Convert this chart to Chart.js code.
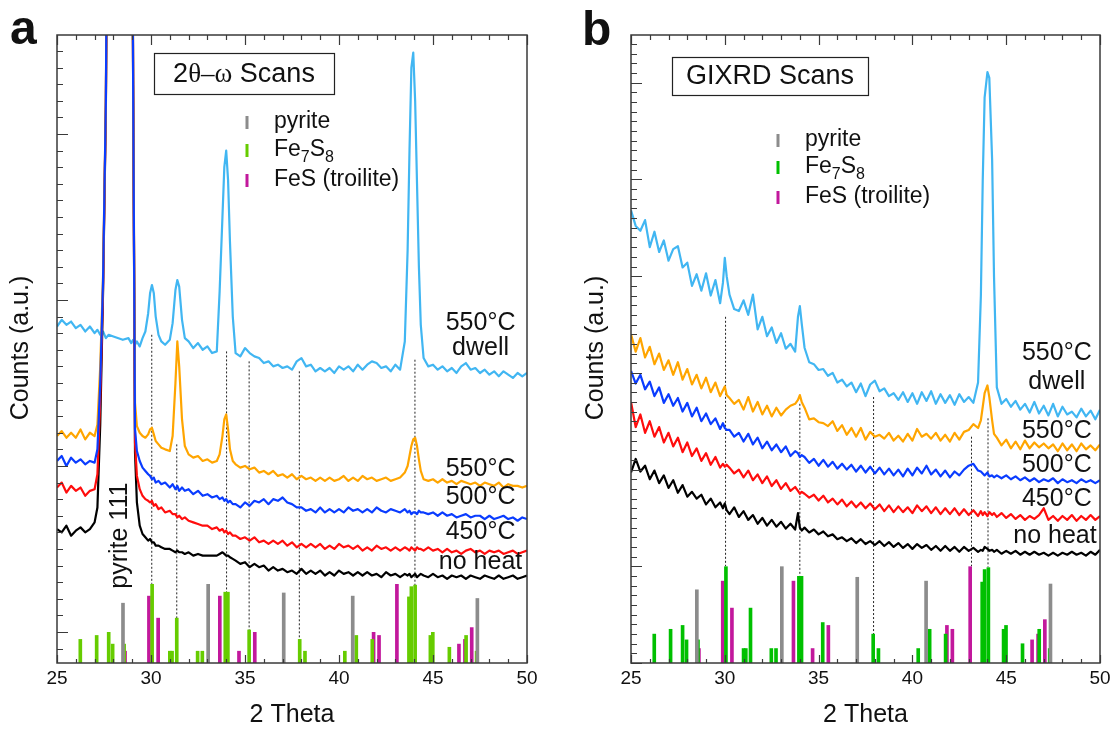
<!DOCTYPE html>
<html>
<head>
<meta charset="utf-8">
<title>XRD scans</title>
<script src="https://cdn.jsdelivr.net/npm/chart.js@4.4.1/dist/chart.umd.min.js"></script>
<style>
  html, body { margin: 0; padding: 0; background: #fff; }
  #wrap { position: relative; width: 1115px; height: 729px; overflow: hidden; }
  #wrap canvas { position: absolute; top: 0; }
  #scanChart { left: 0; }
  #gixrdChart { left: 560px; }
</style>
</head>
<body>
<div id="wrap">
  <canvas id="scanChart" width="560" height="729"></canvas>
  <canvas id="gixrdChart" width="555" height="729"></canvas>
</div>
<script>
// ---------- panel a: 2theta-omega scans ----------
const thetaA = [
  25, 25.25, 25.5, 25.75, 26, 26.25, 26.5, 26.75, 27,
  27.15, 27.3, 27.45, 27.6, 27.75,
  28, 28.5, 28.8, 28.95, 29.05,
  29.15, 29.25, 29.4, 29.55, 29.7, 29.85,
  29.95, 30.05, 30.15, 30.25, 30.4, 30.55, 30.75,
  31, 31.15, 31.3, 31.4, 31.5, 31.65, 31.8,
  32, 32.25, 32.5, 32.75, 33, 33.25, 33.5,
  33.65, 33.8, 33.9, 34, 34.1, 34.2, 34.35,
  34.5, 34.75, 35, 35.25, 35.5, 35.75, 36, 36.25, 36.5, 36.75,
  37, 37.25, 37.5, 37.75, 38, 38.25, 38.5, 38.75, 39, 39.25,
  39.5, 39.75, 40, 40.25, 40.5, 40.75, 41, 41.25, 41.5, 41.75,
  42, 42.25, 42.5, 42.75, 43, 43.25, 43.5,
  43.65, 43.75, 43.85, 43.95, 44.05, 44.15, 44.25, 44.35,
  44.5, 44.75, 45, 45.25, 45.5, 45.75, 46, 46.25, 46.5, 46.75,
  47, 47.25, 47.5, 47.75, 48, 48.25, 48.5, 48.75, 49, 49.25,
  49.5, 49.75, 50
];
const dwellA = [
  184, 188, 185, 187, 183, 185, 181, 184, 180,
  182, 179, 181, 177, 179,
  178, 176, 177, 174, 176,
  173, 175, 172, 177, 181, 192,
  204, 209, 204, 190, 179, 175, 173,
  176, 186, 206, 212, 208, 188, 177,
  175, 171, 174, 170, 172, 168, 169,
  205, 250, 280, 290, 272, 235, 190,
  168, 166, 171, 168, 166, 165, 162, 163, 160, 161,
  159, 160, 158, 163, 165, 160, 161, 157, 159, 157,
  159, 156, 160, 158, 160, 157, 161, 158, 161, 163,
  162, 159, 160, 157, 161, 158, 175,
  230, 290, 340, 349, 320, 270, 220, 185,
  165, 160, 161, 158, 160, 157, 159, 156, 160, 162,
  158, 159, 156, 158, 155, 157, 154, 157, 155, 153,
  156, 154, 156
];
const t550A = [
  118, 121, 117, 120, 117, 122, 116, 120, 118,
  125, 160, 215, 320, 600,
  600, 600, 600, 600, 330,
  138, 124, 120, 118, 117, 119,
  122, 123, 119, 115, 113, 111, 110,
  109, 118, 150, 175, 160, 128, 112,
  107, 105, 106, 103, 104, 102, 103,
  107, 118, 128, 131, 122, 110, 103,
  101, 99, 100, 98, 99, 96, 97, 95, 97, 94,
  95, 93, 95, 92, 94, 92, 93, 91, 93, 91,
  93, 91, 92, 94, 91, 93, 91, 94, 92, 93,
  91, 92, 93, 91, 92, 93, 96,
  100, 106, 112, 116, 117, 112, 104, 97,
  92, 91, 92, 90, 92, 90, 91, 89, 91, 90,
  89, 90, 88, 90, 89, 88, 90, 87, 89, 88,
  88, 87, 88
];
const t500A = [
  103, 106, 100, 105, 102, 104, 101, 103, 102,
  110, 150, 212, 320, 600,
  600, 600, 600, 600, 330,
  122, 109, 103, 99, 97, 95,
  94, 92, 93, 90, 91, 89, 90,
  87, 89, 86, 88, 85, 87, 85,
  86, 83, 85, 82, 83, 81, 82,
  80, 81, 79, 80, 78, 79, 77,
  77, 75, 78, 76, 79, 78, 80, 77, 80, 79,
  81, 78, 77, 75, 75, 73, 74, 72, 75, 72,
  74, 72, 74, 72, 75, 73, 74, 72, 74, 72,
  75, 73, 72, 74, 73, 72, 74,
  72, 73, 71, 72, 72, 71, 73, 72,
  72, 71, 72, 70, 72, 70, 71, 69, 70, 71,
  69, 70, 70, 68, 70, 68, 69, 70, 68, 69,
  67, 69, 68
];
const t450A = [
  87, 90, 84, 88, 85, 87, 82, 85, 86,
  95, 140, 208, 318, 600,
  600, 600, 600, 600, 330,
  114, 94, 86, 82, 80, 79,
  78, 79, 76, 77, 74, 75, 72,
  73, 71, 71, 69, 70, 68, 69,
  67, 66, 65, 64, 64, 62, 63,
  61, 62, 60, 61, 59, 60, 58,
  58, 56, 57, 55, 57, 54, 55, 53, 55, 53,
  55, 52, 54, 51, 53, 51, 53, 51, 53, 50,
  52, 50, 53, 51, 52, 50, 52, 49, 51, 49,
  52, 50, 51, 49, 51, 49, 51,
  50, 49, 51, 50, 49, 51, 50, 50,
  49, 51, 49, 50, 48, 50, 48, 49, 47, 49,
  50, 48, 49, 47, 49, 48, 49, 47, 48, 49,
  47, 48, 49
];
const noHeatA = [
  62, 60, 64, 58, 61, 63, 60, 62, 66,
  75, 125, 205, 315, 600,
  600, 600, 600, 600, 330,
  108, 78, 64, 59, 57, 55,
  56, 54, 54, 52, 52, 51, 50,
  50, 49, 48, 49, 48, 48, 47,
  48, 46, 47, 46, 46, 46, 46,
  47, 48, 47, 46, 46, 45, 44,
  43, 41, 42, 39, 41, 39, 40, 37, 39, 37,
  38, 36, 37, 35, 38, 35, 37, 35, 37, 34,
  36, 34, 37, 35, 36, 34, 36, 34, 36, 34,
  35, 33, 36, 34, 35, 33, 35,
  34, 35, 33, 34, 35, 33, 34, 35,
  34, 33, 35, 33, 34, 32, 34, 33, 34, 32,
  34, 33, 32, 34, 33, 32, 34, 32, 33, 34,
  32, 33, 34
];
// dotted peak markers: position, upper end, lower end
const markPosA = [30.04, 31.37, 34.02, 35.22, 37.89, 44.04];
const markTopA = [179, 113, 169, 163, 157, 164];
const markFootA = [29, 8, 24, 1, -5, 28];

// ---------- panel b: GIXRD scans ----------
const thetaB = [
  25, 25.25, 25.5, 25.75, 26, 26.25, 26.5, 26.75, 27, 27.25,
  27.5, 27.75, 28, 28.25, 28.5, 28.75, 29, 29.25, 29.5, 29.75,
  29.9, 30, 30.1,
  30.25, 30.5, 30.75, 31, 31.25, 31.5, 31.75, 32, 32.25, 32.5,
  32.75, 33, 33.25, 33.5, 33.75,
  33.9, 34, 34.1,
  34.25, 34.5, 34.75, 35, 35.25, 35.5, 35.75, 36, 36.25, 36.5,
  36.75, 37, 37.25, 37.5, 37.75, 38, 38.25, 38.5, 38.75, 39,
  39.25, 39.5, 39.75, 40, 40.25, 40.5, 40.75, 41, 41.25, 41.5,
  41.75, 42, 42.25, 42.5, 42.75, 43, 43.25, 43.5,
  43.65, 43.75, 43.85, 44, 44.1, 44.25, 44.35,
  44.5, 44.75, 45, 45.25, 45.5, 45.75, 46, 46.25, 46.5, 46.75,
  47, 47.25, 47.5, 47.75, 48, 48.25, 48.5, 48.75, 49, 49.25,
  49.5, 49.75, 50
];
const dwellB = [
  468, 452, 447, 458, 430, 446, 425, 437, 416, 428,
  431, 409, 414, 390, 402, 385, 403, 380, 396, 372,
  393, 419, 400,
  381, 366, 364, 375, 360, 381, 345, 358, 338, 347,
  331, 341, 325, 330, 322,
  358, 369, 351,
  326, 311, 309, 303, 304, 297, 300, 290, 293, 286,
  290, 280, 289, 276, 288, 292, 281, 284, 276, 279,
  272, 280, 270, 279, 268, 280, 271, 281, 268, 278,
  269, 277, 267, 278, 270, 275, 269, 290,
  380, 500, 585, 611, 605, 520, 400,
  285, 268, 273, 265, 271, 262, 268, 259, 270, 258,
  266, 256, 268, 255, 265, 257, 260, 254, 263, 255,
  261, 252, 262
];
const t550B = [
  340, 322, 336, 316, 327, 309, 320, 303, 313, 298,
  311, 293, 304, 288, 298, 284, 295, 280, 290, 276,
  282, 286, 277,
  274, 268, 272, 262, 275, 260, 270, 257, 266, 255,
  264, 256, 262, 266, 268,
  272, 277, 270,
  264, 252, 253, 249, 248, 245, 250, 240, 246, 236,
  243, 234, 243, 231, 239, 234, 236, 232, 238, 230,
  235, 229, 237, 230, 242, 234, 237, 232, 238, 230,
  236, 229, 238, 231, 239, 241, 247, 243,
  251, 265, 279, 287, 275, 251, 237,
  233, 225, 231, 222, 229, 221, 230, 222, 228, 223,
  227, 222, 226, 219, 227, 220, 226, 219, 227, 221,
  225, 220, 226
];
const t500B = [
  302, 289, 298, 283, 291, 276, 285, 269, 278, 266,
  274, 260, 269, 255, 264, 250, 258, 247, 253, 242,
  248, 243, 241,
  241, 234, 238, 229, 237, 226, 233, 222, 229, 220,
  226, 218, 224, 214, 219,
  217, 213, 215,
  213, 207, 211, 204, 210, 203, 208, 201, 206, 200,
  205, 198, 204, 197, 203, 196, 202, 195, 201, 194,
  200, 193, 201, 194, 202, 196, 204, 195, 200, 193,
  199, 192, 198, 194, 200, 204, 206, 199,
  198, 196, 194, 197, 193, 194, 192,
  194, 191, 194, 190, 193, 189, 192, 188, 191, 187,
  190, 188, 191, 186, 190, 187, 189, 186, 190, 187,
  189, 186, 189
];
const t450B = [
  270, 244, 257, 238, 250, 234, 244, 228, 238, 224,
  233, 218, 228, 214, 222, 209, 217, 205, 213, 202,
  206, 203, 205,
  202, 196, 200, 192, 199, 189, 195, 186, 193, 183,
  189, 180, 186, 178, 182,
  178, 175, 177,
  175, 171, 174, 168, 173, 166, 170, 164, 169, 162,
  167, 161, 166, 160, 165, 159, 164, 157, 163, 156,
  162, 156, 161, 155, 163, 157, 162, 155, 161, 154,
  160, 154, 160, 153, 159, 153, 158, 152,
  157, 153, 156, 152, 156, 153, 155,
  151, 155, 150, 154, 149, 153, 148, 152, 149, 153,
  160, 148, 152, 147, 152, 148, 153, 147, 152, 148,
  153, 148, 152
];
const noHeatB = [
  197, 211, 198, 204, 190, 199, 186, 194, 181, 189,
  176, 184, 172, 177, 170, 174, 164, 170, 161, 166,
  160, 165, 158,
  154, 161, 151, 157, 148, 153, 144, 150, 142, 148,
  141, 146, 139, 144, 138,
  155, 140, 137,
  140, 135, 138, 133, 136, 131, 133, 128, 130, 126,
  129, 124, 128, 123, 126, 122, 126, 121, 125, 120,
  124, 119, 123, 118, 123, 119, 122, 117, 121, 116,
  121, 116, 120, 115, 120, 116, 119, 115,
  117, 116, 120, 118, 116, 117, 115,
  117, 113, 116, 113, 116, 112, 115, 112, 115, 112,
  114, 111, 114, 111, 114, 112, 115, 112, 114, 111,
  115, 112, 117
];
const markPosB = [30.04, 34.0, 37.93, 43.15, 44.03];
const markTopB = [358, 268, 275, 234, 253];
const markFootB = [100, 90, 30, 100, 99];

// ---------- reference patterns (relative intensity, 100 = strongest) ----------
const pyritePos = [28.51, 33.04, 37.06, 40.73, 47.36];
const pyriteInt = [76, 100, 89, 85, 82];
const fe7s8Pos = [26.24, 27.11, 27.75, 27.96, 28.57, 30.06, 31.0, 31.12, 31.37, 32.48,
                  32.73, 33.95, 34.09, 35.22, 37.91, 38.19, 40.31, 40.92, 41.77, 43.72,
                  43.85, 44.05, 44.86, 44.99, 45.87, 46.76, 47.32];
const fe7s8Int = [30, 35, 39, 24, 24, 100, 15, 15, 57, 15,
                  15, 90, 90, 42, 30, 15, 15, 35, 30, 84,
                  97, 99, 35, 39, 20, 35, 15];
const troilitePos = [28.62, 29.89, 30.38, 33.66, 34.68, 35.52, 41.84, 42.13, 43.08, 46.38, 46.7, 47.06];
const troiliteInt = [15, 85, 57, 85, 15, 39, 39, 35, 100, 24, 30, 45];

// ---------- styling ----------
const FONT = '"Liberation Sans", Arial, Helvetica, sans-serif';
const SERIF = '"Liberation Serif", "Times New Roman", serif';
const AXIS_COLOR = '#3a3a3a';
const TEXT_COLOR = '#111';
const GREY = '#8c8c8c';
const MAGENTA = '#c2189c';
const COLORS = {
  dwell: '#41b6f2',
  t550: '#ffa500',
  t500: '#0a3cff',
  t450: '#ff0d0d',
  noHeat: '#000000'
};

const panelA = {
  canvas: 'scanChart',
  letter: { text: 'a', x: 10, y: 44 },
  padding: { left: 57, right: 33, top: 35, bottom: 66 },
  yMin: -18.7, yMax: 359.6, yMinor: 10, yMajor: 100,
  stickScale: 0.474,
  green: '#66cc00',
  theta: thetaA,
  curves: [
    { values: t500A, color: COLORS.t500, order: 1 },
    { values: t550A, color: COLORS.t550, order: 2 },
    { values: t450A, color: COLORS.t450, order: 3 },
    { values: noHeatA, color: COLORS.noHeat, order: 4 },
    { values: dwellA, color: COLORS.dwell, order: 5 }
  ],
  marks: { pos: markPosA, top: markTopA, foot: markFootA },
  box: { x: 154, y: 53, w: 180, h: 41, parts: [['2', FONT], ['\u03b8\u2013\u03c9', SERIF], [' Scans', FONT]] },
  legend: { tickX: 247, textX: 274, rows: [122, 150, 180] },
  yTitleX: 21,
  labels: [
    { text: '550\u00b0C', x: 47.53, y: 186 },
    { text: 'dwell', x: 47.53, y: 171 },
    { text: '550\u00b0C', x: 47.53, y: 98 },
    { text: '500\u00b0C', x: 47.53, y: 81 },
    { text: '450\u00b0C', x: 47.53, y: 60 },
    { text: 'no heat', x: 47.53, y: 42 }
  ],
  rotated: { text: 'pyrite 111', x: 28.35, y: 58 }
};

const panelB = {
  canvas: 'gixrdChart',
  letter: { text: 'b', x: 22, y: 45 },
  padding: { left: 71, right: 15, top: 35, bottom: 66 },
  yMin: 0, yMax: 649.4, yMinor: 10, yMajor: 100,
  stickScale: 0.996,
  green: '#00c000',
  theta: thetaB,
  curves: [
    { values: t500B, color: COLORS.t500, order: 1 },
    { values: t550B, color: COLORS.t550, order: 2 },
    { values: t450B, color: COLORS.t450, order: 3 },
    { values: noHeatB, color: COLORS.noHeat, order: 4 },
    { values: dwellB, color: COLORS.dwell, order: 5 }
  ],
  marks: { pos: markPosB, top: markTopB, foot: markFootB },
  box: { x: 112, y: 57, w: 196, h: 38, parts: [['GIXRD Scans', FONT]] },
  legend: { tickX: 218, textX: 245, rows: [140, 167, 197] },
  yTitleX: 36,
  labels: [
    { text: '550\u00b0C', x: 47.7, y: 320 },
    { text: 'dwell', x: 47.7, y: 290 },
    { text: '550\u00b0C', x: 47.7, y: 240 },
    { text: '500\u00b0C', x: 47.7, y: 205 },
    { text: '450\u00b0C', x: 47.7, y: 169 },
    { text: 'no heat', x: 47.6, y: 131 }
  ],
  rotated: null
};

/**
 * Frame, inward ticks, tick labels, titles, legend and annotations
 */
function decorPlugin(panel) {
  return {
    id: 'xrdDecor',
    afterDraw(chart) {
      const ctx = chart.ctx;
      const area = chart.chartArea;
      const xs = chart.scales.x;
      const ys = chart.scales.y;
      ctx.save();

      // ticks pointing into the plot
      ctx.strokeStyle = AXIS_COLOR;
      ctx.lineWidth = 1.2;
      ctx.beginPath();
      for (let v = Math.ceil(xs.min); v <= xs.max + 1e-9; v++) {
        const px = Math.round(xs.getPixelForValue(v)) + 0.5;
        const major = v % 5 === 0;
        ctx.moveTo(px, area.bottom);
        ctx.lineTo(px, area.bottom - (major ? 8 : 4));
        ctx.moveTo(px, area.top);
        ctx.lineTo(px, area.top + (major ? 10 : 5));
      }
      for (let v = Math.ceil(ys.min / panel.yMinor) * panel.yMinor; v <= ys.max; v += panel.yMinor) {
        const py = Math.round(ys.getPixelForValue(v)) + 0.5;
        const major = Math.abs(v % panel.yMajor) < 1e-6;
        ctx.moveTo(area.left, py);
        ctx.lineTo(area.left + (major ? 11 : 6), py);
      }
      ctx.stroke();

      ctx.lineWidth = 1.5;
      ctx.strokeRect(area.left, area.top, area.right - area.left, area.bottom - area.top);

      // x tick labels and axis titles
      ctx.fillStyle = TEXT_COLOR;
      ctx.textAlign = 'center';
      ctx.textBaseline = 'middle';
      ctx.font = '19px ' + FONT;
      for (let v = 25; v <= 50; v += 5) {
        ctx.fillText(String(v), xs.getPixelForValue(v), 679);
      }
      ctx.font = '25px ' + FONT;
      ctx.fillText('2 Theta', (area.left + area.right) / 2, 715);

      ctx.save();
      ctx.translate(panel.yTitleX, 348);
      ctx.rotate(-Math.PI / 2);
      ctx.fillText('Counts (a.u.)', 0, 0);
      ctx.restore();

      // panel letter
      ctx.textAlign = 'left';
      ctx.textBaseline = 'alphabetic';
      ctx.font = 'bold 48px ' + FONT;
      ctx.fillText(panel.letter.text, panel.letter.x, panel.letter.y);

      // scan type box
      const b = panel.box;
      ctx.fillStyle = '#fff';
      ctx.fillRect(b.x, b.y, b.w, b.h);
      ctx.strokeStyle = '#222';
      ctx.lineWidth = 1.2;
      ctx.strokeRect(b.x + 0.5, b.y + 0.5, b.w, b.h);
      ctx.fillStyle = TEXT_COLOR;
      ctx.textBaseline = 'middle';
      let total = 0;
      b.parts.forEach(([t, f]) => { ctx.font = '27px ' + f; total += ctx.measureText(t).width; });
      let tx = b.x + (b.w - total) / 2;
      b.parts.forEach(([t, f]) => {
        ctx.font = '27px ' + f;
        ctx.fillText(t, tx, b.y + b.h / 2 + 1);
        tx += ctx.measureText(t).width;
      });

      // phase legend
      const rows = [
        { color: GREY, parts: [['pyrite', false]] },
        { color: panel.green, parts: [['Fe', false], ['7', true], ['S', false], ['8', true]] },
        { color: MAGENTA, parts: [['FeS (troilite)', false]] }
      ];
      rows.forEach((row, i) => {
        const y = panel.legend.rows[i];
        ctx.fillStyle = row.color;
        ctx.fillRect(panel.legend.tickX - 1.5, y - 6, 3, 13);
        ctx.fillStyle = TEXT_COLOR;
        let x = panel.legend.textX;
        row.parts.forEach(([t, sub]) => {
          ctx.font = (sub ? '16px ' : '23px ') + FONT;
          ctx.fillText(t, x, sub ? y + 8 : y);
          x += ctx.measureText(t).width;
        });
      });

      // curve labels
      ctx.textAlign = 'center';
      ctx.font = '25px ' + FONT;
      panel.labels.forEach(l => {
        ctx.fillText(l.text, xs.getPixelForValue(l.x), ys.getPixelForValue(l.y));
      });
      if (panel.rotated) {
        ctx.save();
        ctx.translate(xs.getPixelForValue(panel.rotated.x), ys.getPixelForValue(panel.rotated.y));
        ctx.rotate(-Math.PI / 2);
        ctx.fillText(panel.rotated.text, 0, 0);
        ctx.restore();
      }
      ctx.restore();
    }
  };
}

function stickDataset(pos, ints, color, panel) {
  return {
    type: 'bar',
    data: pos.map((p, i) => ({ x: p, y: [panel.yMin, panel.yMin + ints[i] * panel.stickScale] })),
    backgroundColor: color,
    borderWidth: 0,
    barThickness: 3,
    grouped: false,
    order: 7
  };
}

function buildPanel(panel) {
  const datasets = panel.curves.map(c => ({
    type: 'line',
    data: panel.theta.map((t, i) => ({ x: t, y: c.values[i] })),
    borderColor: c.color,
    borderWidth: 2.2,
    borderJoinStyle: 'round',
    pointRadius: 0,
    tension: 0,
    fill: false,
    clip: 0,
    order: c.order
  }));

  // dotted peak guides, broken with nulls between them
  const guide = [];
  panel.marks.pos.forEach((p, i) => {
    guide.push({ x: p, y: panel.marks.top[i] }, { x: p, y: panel.marks.foot[i] }, { x: p, y: null });
  });
  datasets.push({
    type: 'line',
    data: guide,
    borderColor: '#222',
    borderWidth: 1,
    borderDash: [2, 2],
    pointRadius: 0,
    spanGaps: false,
    order: 8
  });

  datasets.push(stickDataset(pyritePos, pyriteInt, GREY, panel));
  datasets.push(stickDataset(fe7s8Pos, fe7s8Int, panel.green, panel));
  datasets.push(stickDataset(troilitePos, troiliteInt, MAGENTA, panel));

  return new Chart(document.getElementById(panel.canvas), {
    type: 'line',
    data: { datasets },
    options: {
      responsive: false,
      devicePixelRatio: 1,
      animation: false,
      events: [],
      layout: { padding: panel.padding },
      plugins: { legend: { display: false }, tooltip: { enabled: false } },
      scales: {
        x: { type: 'linear', min: 25, max: 50, offset: false, display: false },
        y: { type: 'linear', min: panel.yMin, max: panel.yMax, display: false }
      }
    },
    plugins: [decorPlugin(panel)]
  });
}

buildPanel(panelA);
buildPanel(panelB);
</script>
</body>
</html>
